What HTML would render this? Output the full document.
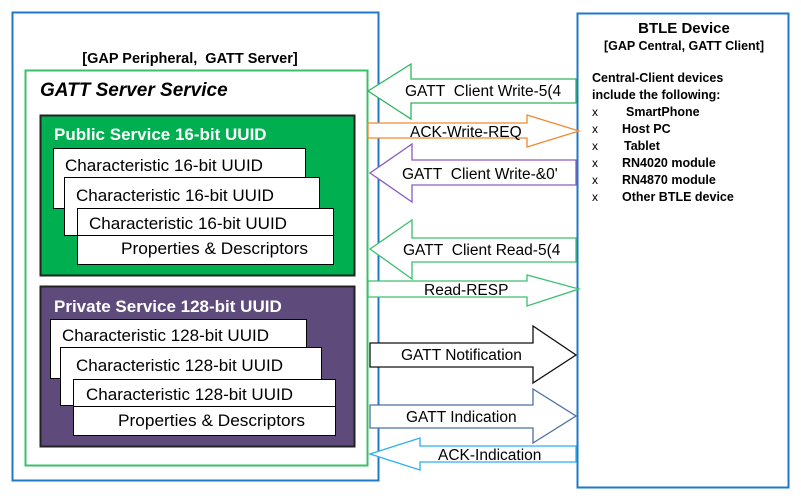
<!DOCTYPE html>
<html><head><meta charset="utf-8"><style>
html,body{margin:0;padding:0;background:#fff;}
svg{display:block;}
text{font-family:"Liberation Sans",Arial,sans-serif;white-space:pre;}
</style></head><body>
<svg width="801" height="496" viewBox="0 0 801 496" xmlns="http://www.w3.org/2000/svg" xml:space="preserve">
<rect x="0" y="0" width="801" height="496" fill="#fff"/>
<rect x="12.5" y="12.5" width="366" height="468" fill="#fff" stroke="#1f78c8" stroke-width="2"/>
<text x="190" y="63" font-size="14.5" font-weight="bold" text-anchor="middle">[GAP Peripheral,  GATT Server]</text>
<rect x="25.5" y="70.5" width="342" height="395" fill="#fff" stroke="#3cbf6a" stroke-width="2"/>
<text x="40" y="96" font-size="19" font-weight="bold" font-style="italic">GATT Server Service</text>
<rect x="40.5" y="115.5" width="314" height="160" fill="#00b050" stroke="#222" stroke-width="2"/>
<text x="54" y="140" font-size="17" font-weight="bold" fill="#fff">Public Service 16-bit UUID</text>
<rect x="53.5" y="148.5" width="252" height="60" fill="#fff" stroke="#000" stroke-width="1"/>
<rect x="64.5" y="177.5" width="255" height="58" fill="#fff" stroke="#000" stroke-width="1"/>
<rect x="77.5" y="208.5" width="256" height="56" fill="#fff" stroke="#000" stroke-width="1"/>
<rect x="77.5" y="235.5" width="256" height="29" fill="#fff" stroke="#000" stroke-width="1"/>
<text x="65" y="171" font-size="16.5" textLength="198" lengthAdjust="spacingAndGlyphs">Characteristic 16-bit UUID</text>
<text x="76" y="201" font-size="16.5" textLength="198" lengthAdjust="spacingAndGlyphs">Characteristic 16-bit UUID</text>
<text x="89" y="229" font-size="16.5" textLength="198" lengthAdjust="spacingAndGlyphs">Characteristic 16-bit UUID</text>
<text x="121" y="254" font-size="16.5" textLength="187" lengthAdjust="spacingAndGlyphs">Properties &amp; Descriptors</text>
<rect x="40.5" y="286.5" width="314" height="160" fill="#5f4b7b" stroke="#222" stroke-width="2"/>
<text x="54" y="312" font-size="17" font-weight="bold" fill="#fff">Private Service 128-bit UUID</text>
<rect x="50.5" y="319.5" width="256" height="59" fill="#fff" stroke="#000" stroke-width="1"/>
<rect x="60.5" y="347.5" width="261" height="58" fill="#fff" stroke="#000" stroke-width="1"/>
<rect x="73.5" y="379.5" width="262" height="56" fill="#fff" stroke="#000" stroke-width="1"/>
<rect x="73.5" y="406.5" width="262" height="29" fill="#fff" stroke="#000" stroke-width="1"/>
<text x="62" y="341" font-size="16.5" textLength="207" lengthAdjust="spacingAndGlyphs">Characteristic 128-bit UUID</text>
<text x="76" y="371" font-size="16.5" textLength="207" lengthAdjust="spacingAndGlyphs">Characteristic 128-bit UUID</text>
<text x="86" y="400" font-size="16.5" textLength="207" lengthAdjust="spacingAndGlyphs">Characteristic 128-bit UUID</text>
<text x="118" y="426" font-size="16.5" textLength="187" lengthAdjust="spacingAndGlyphs">Properties &amp; Descriptors</text>
<rect x="577.5" y="13.5" width="211" height="474" fill="#fff" stroke="#1f78c8" stroke-width="2"/>
<text x="684" y="33" font-size="15" font-weight="bold" text-anchor="middle">BTLE Device</text>
<text x="684" y="50" font-size="12.5" font-weight="bold" text-anchor="middle">[GAP Central, GATT Client]</text>
<text x="592" y="82" font-size="12.5" font-weight="bold">Central-Client devices</text>
<text x="592" y="99" font-size="12.5" font-weight="bold">include the following:</text>
<g font-size="12" font-family="Liberation Serif,serif">
<text x="592" y="116">x</text><text x="592" y="133">x</text><text x="592" y="150">x</text>
<text x="592" y="167">x</text><text x="592" y="184">x</text><text x="592" y="201">x</text>
</g>
<g font-size="12.5" font-weight="bold">
<text x="626" y="116">SmartPhone</text>
<text x="622" y="133">Host PC</text>
<text x="624" y="150">Tablet</text>
<text x="622" y="167">RN4020 module</text>
<text x="622" y="184">RN4870 module</text>
<text x="622" y="201">Other BTLE device</text>
</g>
<g stroke-width="1.3" fill="#fff">
<polygon points="368,91 411,64 411,79 576,79 576,103 411,103 411,119" stroke="#2fb55e"/>
<polygon points="368,123 527,123 527,115 579,131 527,147 527,138 368,138" stroke="#f08a30"/>
<polygon points="370,173 412,144 412,160 576,160 576,185 412,185 412,202" stroke="#8a5cc0"/>
<polygon points="370,249 412,220 412,238 576,238 576,262 412,262 412,279" stroke="#3cc070"/>
<polygon points="368,281 527,281 527,275 579,289 527,306 527,297 368,297" stroke="#3cc070"/>
<polygon points="370,343 533,343 533,326 576,355 533,383 533,367 370,367" stroke="#111"/>
<polygon points="370,405 533,405 533,389 576,416 533,443 533,428 370,428" stroke="#4a6fa5"/>
<polygon points="370,454 420,438 420,446 576,446 576,462 420,462 420,470" stroke="#2ab0f0"/>
</g>
<g font-size="15.5">
<text x="405" y="96">GATT&#160; Client Write-5(4</text>
<text x="410" y="137">ACK-Write-REQ</text>
<text x="402" y="179">GATT&#160; Client Write-&amp;0'</text>
<text x="403" y="255">GATT&#160; Client Read-5(4</text>
<text x="424" y="295">Read-RESP</text>
<text x="401" y="360">GATT Notification</text>
<text x="406" y="422">GATT Indication</text>
<text x="438" y="460">ACK-Indication</text>
</g>
</svg>
</body></html>
